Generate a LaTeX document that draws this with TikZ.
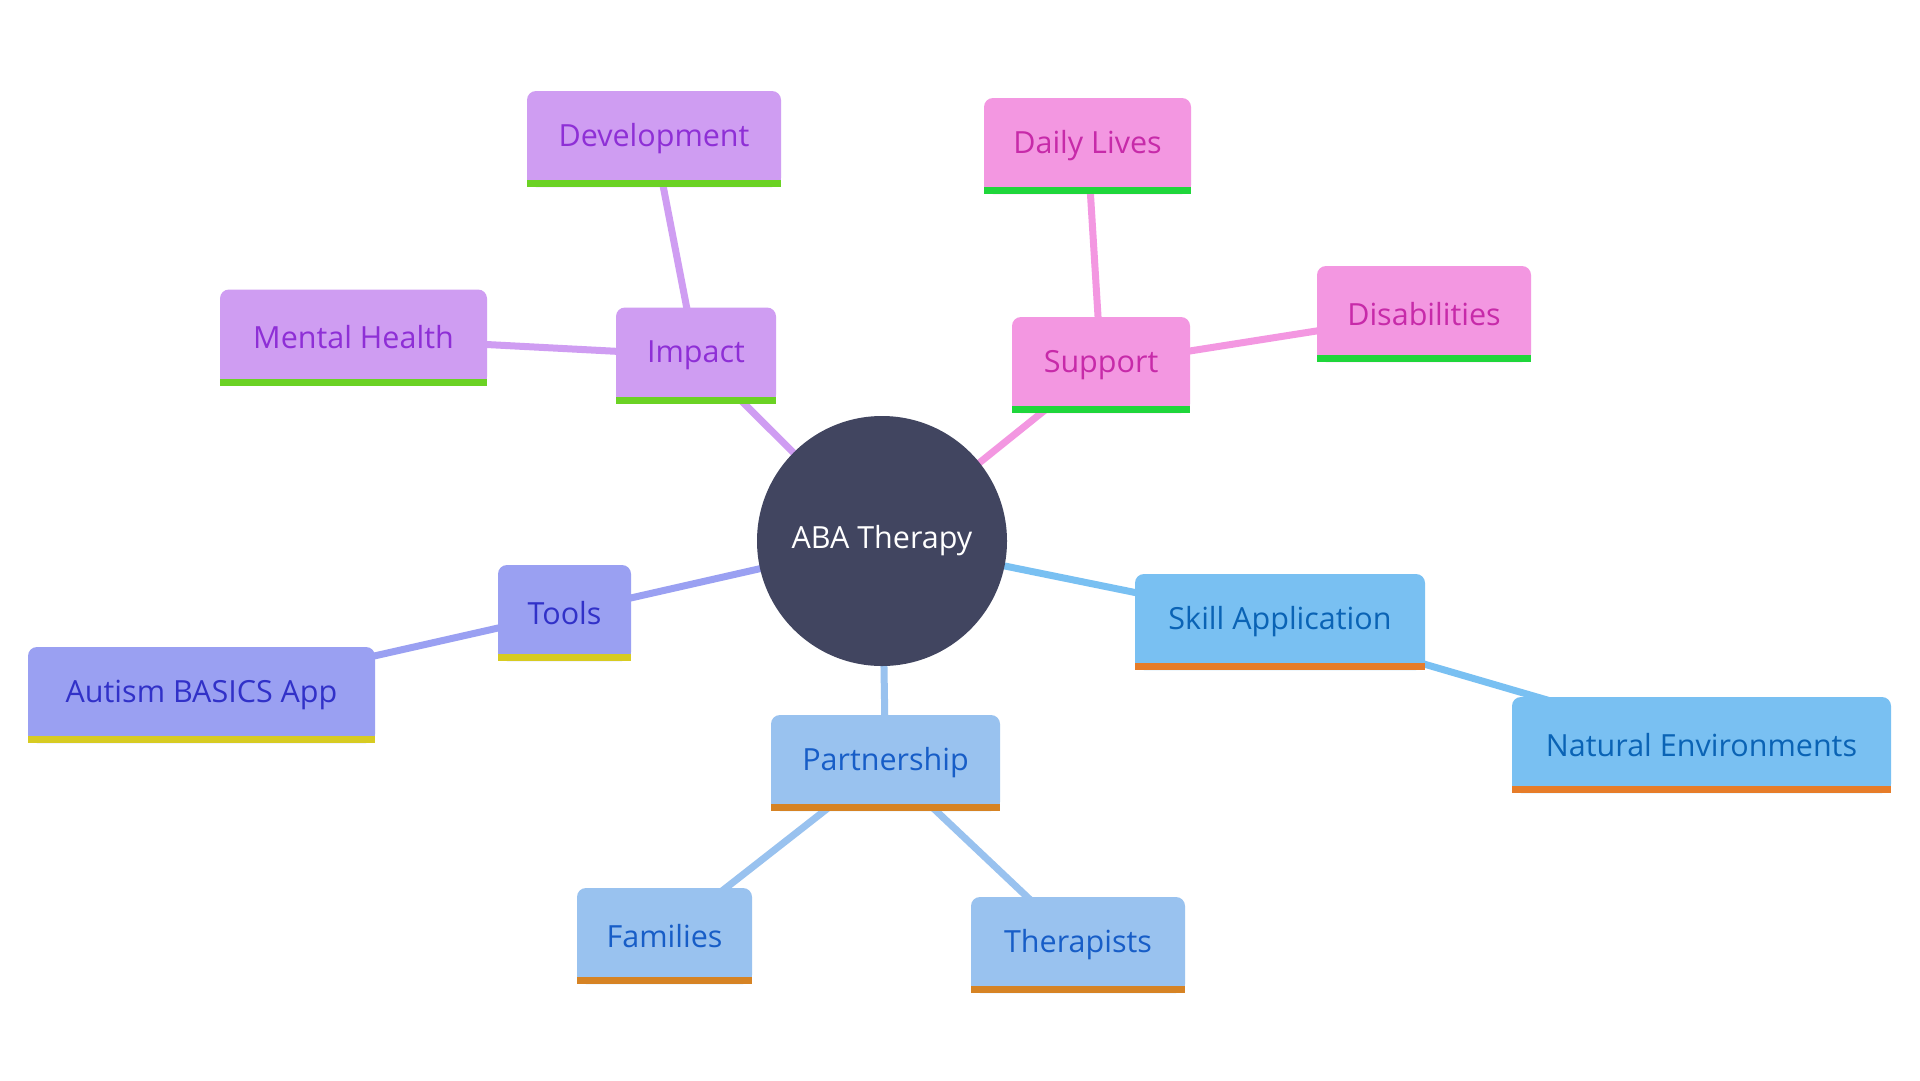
\documentclass[tikz,border=0pt]{standalone}
\usepackage{fontspec}
\setmainfont{Open Sans}
\pgfdeclarelayer{background}
\pgfsetlayers{background,main}
\definecolor{pFill}{HTML}{CF9DF2}\definecolor{pText}{HTML}{8E2FD6}\definecolor{pBar}{HTML}{6BD224}
\definecolor{kFill}{HTML}{F397E1}\definecolor{kText}{HTML}{C72AA9}\definecolor{kBar}{HTML}{1FD63B}
\definecolor{tFill}{HTML}{9AA0F2}\definecolor{tText}{HTML}{3131C8}\definecolor{tBar}{HTML}{D7CB22}
\definecolor{sFill}{HTML}{79C0F2}\definecolor{sText}{HTML}{0A63B5}\definecolor{sBar}{HTML}{E67C29}
\definecolor{aFill}{HTML}{99C2EF}\definecolor{aText}{HTML}{175DC7}\definecolor{aBar}{HTML}{D68324}
\definecolor{rootFill}{HTML}{414560}
\tikzset{
  mmbox/.style={rectangle, rounded corners=9pt, inner sep=0pt, minimum height=96pt},
  mmtext/.style={inner sep=0pt, font=\fontsize{30.5}{36}\selectfont},
  rootnode/.style={circle, fill=rootFill, text=white, minimum size=250pt, inner sep=0pt,
    font=\fontsize{30.5}{36}\selectfont},
  edge/.style={line width=7pt}
}
\newcommand{\mmnode}[8]{%
  \node[mmbox, fill=#6, minimum width=#4pt] (#1) at (#2,#3) {};
  \fill[#6] (#1.south west) rectangle ([yshift=20pt]#1.south east);
  \fill[#8] (#1.south west) rectangle ([yshift=7pt]#1.south east);
  \node[mmtext, text=#7] at (#1.center) {#5};
}
\begin{document}
\begin{tikzpicture}[x=1pt, y=-1pt]
  \useasboundingbox (0,0) rectangle (1920,1080);
  \node[rootnode] (root) at (882,541) {ABA Therapy};
  \mmnode{impact}{696}{355.5}{160}{Impact}{pFill}{pText}{pBar}
  \mmnode{dev}{654}{139}{254}{Development}{pFill}{pText}{pBar}
  \mmnode{mental}{353.5}{337.5}{267}{Mental Health}{pFill}{pText}{pBar}
  \mmnode{support}{1101}{365}{178}{Support}{kFill}{kText}{kBar}
  \mmnode{daily}{1087.5}{146}{207}{Daily Lives}{kFill}{kText}{kBar}
  \mmnode{disab}{1424}{314}{214}{Disabilities}{kFill}{kText}{kBar}
  \mmnode{tools}{564.5}{613}{133}{Tools}{tFill}{tText}{tBar}
  \mmnode{autism}{201.5}{695}{347}{Autism BASICS App}{tFill}{tText}{tBar}
  \mmnode{skill}{1280}{622}{290}{Skill Application}{sFill}{sText}{sBar}
  \mmnode{natural}{1701.5}{745}{379}{Natural Environments}{sFill}{sText}{sBar}
  \mmnode{partner}{885.5}{763}{229}{Partnership}{aFill}{aText}{aBar}
  \mmnode{families}{664.5}{936}{175}{Families}{aFill}{aText}{aBar}
  \mmnode{therap}{1078}{945}{214}{Therapists}{aFill}{aText}{aBar}
  \begin{pgfonlayer}{background}
    \fill[white] (0,0) rectangle (1920,1080);
    \draw[edge, pFill] (root.center) -- (impact.center);
    \draw[edge, pFill] (impact.center) -- (dev.center);
    \draw[edge, pFill] (impact.center) -- (mental.center);
    \draw[edge, kFill] (root.center) -- (support.center);
    \draw[edge, kFill] (support.center) -- (daily.center);
    \draw[edge, kFill] (support.center) -- (disab.center);
    \draw[edge, tFill] (root.center) -- (tools.center);
    \draw[edge, tFill] (tools.center) -- (autism.center);
    \draw[edge, sFill] (root.center) -- (skill.center);
    \draw[edge, sFill] (skill.center) -- (natural.center);
    \draw[edge, aFill] (root.center) -- (partner.center);
    \draw[edge, aFill] (partner.center) -- (families.center);
    \draw[edge, aFill] (partner.center) -- (therap.center);
  \end{pgfonlayer}
\end{tikzpicture}
\end{document}
